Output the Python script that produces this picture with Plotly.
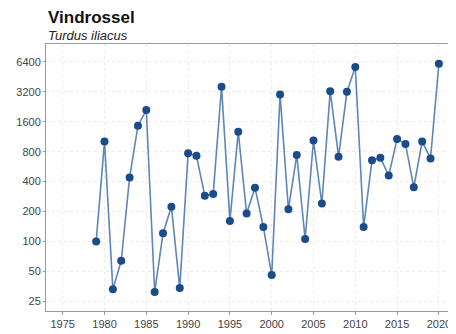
import plotly.graph_objects as go

years = list(range(1979, 2021))
counts = [100, 1010, 33, 64, 440, 1460, 2100, 31, 121, 224,
          34, 770, 727, 288, 300, 3600, 161, 1267, 191, 348,
          140, 46, 3010, 211, 740, 106, 1036, 241, 3250, 712,
          3200, 5670, 140, 658, 696, 460, 1076, 958, 351, 1010,
          685, 6130]
y_ticks = [25, 50, 100, 200, 400, 800, 1600, 3200, 6400]
x_ticks = list(range(1975, 2021, 5))
title = "Vindrossel"
subtitle = "Turdus iliacus"

fig = go.Figure()
fig.add_trace(go.Scatter(
    x=years, y=counts, mode="lines+markers",
    line=dict(color="#5f86b6", width=1.6),
    marker=dict(color="#1b4c8a", size=8),
    showlegend=False,
))

fig.update_layout(
    width=448, height=326,
    margin=dict(l=38, r=4, t=36, b=19),
    paper_bgcolor="white", plot_bgcolor="white",
    font=dict(family="Liberation Sans, Arial, sans-serif", color="#444444", size=11),
    annotations=[
        dict(text="<b>" + title + "</b>", xref="paper", yref="paper", x=0, y=1.098,
             xanchor="left", yanchor="middle", showarrow=False,
             font=dict(size=17, color="#111111")),
        dict(text="<i>" + subtitle + "</i>", xref="paper", yref="paper", x=0, y=1.03,
             xanchor="left", yanchor="middle", showarrow=False,
             font=dict(size=13, color="#222222")),
    ],
)
fig.update_xaxes(
    range=[1973, 2021.45], tickvals=x_ticks, ticktext=[str(v) for v in x_ticks],
    showgrid=True, gridcolor="#ebebeb", griddash="dot", gridwidth=1,
    showline=True, linecolor="#999999", linewidth=1, mirror=True,
    ticks="outside", ticklen=3, tickcolor="#999999", zeroline=False,
)
fig.update_yaxes(
    type="log", range=[1.301, 3.986], tickvals=y_ticks, ticktext=[str(v) for v in y_ticks],
    showgrid=True, gridcolor="#ebebeb", griddash="dot", gridwidth=1,
    showline=True, linecolor="#999999", linewidth=1, mirror=True,
    ticks="outside", ticklen=2, tickcolor="#999999", zeroline=False,
)

fig.write_html("out.html")
